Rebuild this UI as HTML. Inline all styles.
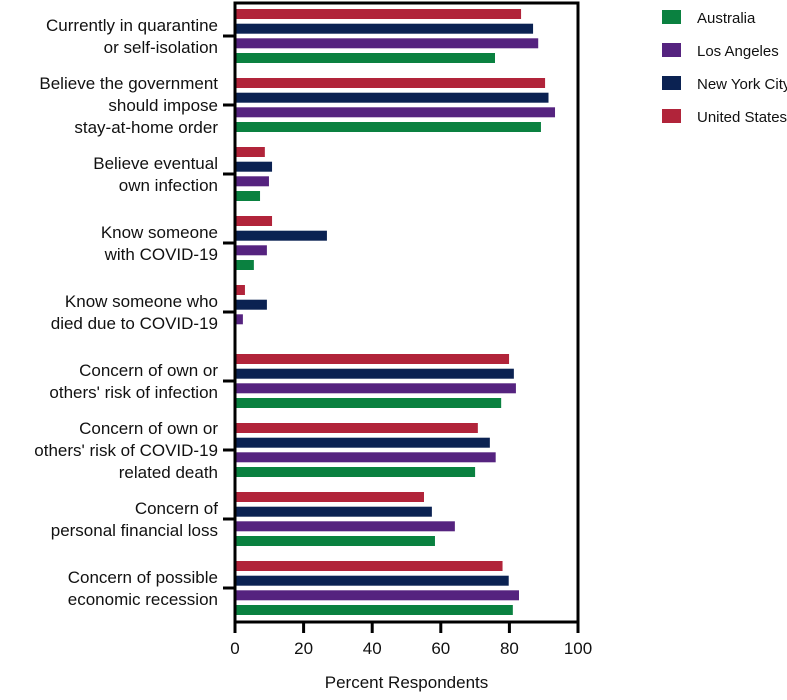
<!DOCTYPE html>
<html><head><meta charset="utf-8"><style>
body{margin:0;background:#fff;}
svg text{font-family:"Liberation Sans",sans-serif;fill:#111;}
</style></head><body>
<svg id="chart" width="787" height="695" xmlns="http://www.w3.org/2000/svg">
<g id="bars"></g>
<g id="axes"></g>
<g id="legend"></g>
</svg>
<script>
const categories=[["Currently in quarantine","or self-isolation"],["Believe the government","should impose","stay-at-home order"],["Believe eventual","own infection"],["Know someone","with COVID-19"],["Know someone who","died due to COVID-19"],["Concern of own or","others' risk of infection"],["Concern of own or","others' risk of COVID-19","related death"],["Concern of","personal financial loss"],["Concern of possible","economic recession"]];
const seriesNames=["Australia","Los Angeles","New York City","United States"];
const australia=[75.8,89.2,7.3,5.5,0.3,77.6,70,58.3,81];
const losAngeles=[88.4,93.3,9.9,9.3,2.3,81.9,76,64.1,82.8];
const newYorkCity=[86.9,91.4,10.8,26.8,9.3,81.3,74.3,57.4,79.8];
const unitedStates=[83.4,90.4,8.7,10.8,2.9,79.9,70.8,55.1,78];
const xTicks=[0,20,40,60,80,100];
const colors=["#0a8140","#55237f","#0b2252","#b1243a"];
const NS="http://www.w3.org/2000/svg";
const x0=235,x1=578,yTop=3,yBot=622;
const xs=v=>x0+(x1-x0)*v/100;
const yc=i=>36+i*69;
function mk(tag,attrs,parent){const e=document.createElementNS(NS,tag);for(const k in attrs)e.setAttribute(k,attrs[k]);parent.appendChild(e);return e;}
const bars=document.getElementById('bars'),axes=document.getElementById('axes'),legend=document.getElementById('legend');
const series=[australia,losAngeles,newYorkCity,unitedStates];
const offs=[22,7.3,-7.3,-22];
categories.forEach((c,i)=>{
  series.forEach((s,j)=>{
    const r=mk('rect',{x:x0,y:yc(i)+offs[j]-5,width:xs(s[i])-x0,height:10,fill:colors[j]},bars);
    
    
  });
  const t=mk('line',{x1:x0-12,x2:x0,y1:yc(i),y2:yc(i),stroke:'#000','stroke-width':3},axes);
  
  
  const n=c.length,lh=22;
  c.forEach((ln,k)=>{
    const tx=mk('text',{x:218,y:yc(i)-(n-1)*lh/2+k*lh+6,'text-anchor':'end','font-size':17},axes);
    tx.textContent=ln;
    
    
  });
});
const fr=mk('rect',{x:x0,y:yTop,width:x1-x0,height:yBot-yTop,fill:'none',stroke:'#000','stroke-width':3},axes);


xTicks.forEach(v=>{
  const l=mk('line',{x1:xs(v),x2:xs(v),y1:yBot,y2:yBot+11,stroke:'#000','stroke-width':3},axes);
  
  
  const t=mk('text',{x:xs(v),y:yBot+32,'text-anchor':'middle','font-size':17},axes);
  t.textContent=v;
  
  
});
const xt=mk('text',{x:(x0+x1)/2,y:688,'text-anchor':'middle','font-size':17},axes);
xt.textContent='Percent Respondents';


const ly=[17,50,83,116];
seriesNames.forEach((nm,j)=>{
  const r=mk('rect',{x:662,y:ly[j]-7,width:19,height:14,fill:colors[j]},legend);
  
  
  const t=mk('text',{x:697,y:ly[j]+6,'font-size':15},legend);
  t.textContent=nm;
  
  
});
</script>
</body></html>
